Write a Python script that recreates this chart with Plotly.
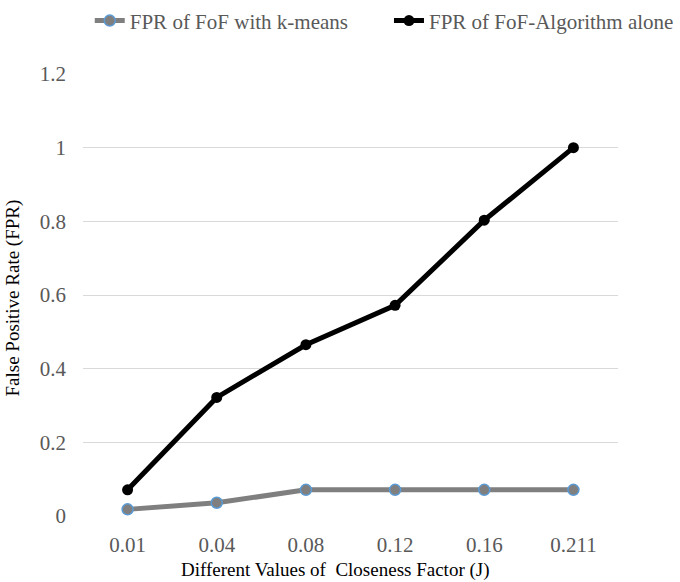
import plotly.graph_objects as go

categories = ["0.01", "0.04", "0.08", "0.12", "0.16", "0.211"]
fpr_kmeans = [0.018, 0.036, 0.071, 0.071, 0.071, 0.071]
fpr_fof = [0.071, 0.322, 0.465, 0.572, 0.803, 1.0]
y_ticks = [0, 0.2, 0.4, 0.6, 0.8, 1, 1.2]
y_tick_labels = ["0", "0.2", "0.4", "0.6", "0.8", "1", "1.2"]

FONT = "'Liberation Serif', 'Times New Roman', serif"
TICK_SIZE = 21
LEGEND_SIZE = 21
TITLE_SIZE = 19

fig = go.Figure()
fig.add_trace(go.Scatter(
    x=categories, y=fpr_kmeans, mode="lines+markers",
    name="FPR of FoF with k-means", legend="legend",
    line=dict(color="#7f7f7f", width=5),
    marker=dict(color="#7f7f7f", size=11, line=dict(color="#5b9bd5", width=1.5)),
))
fig.add_trace(go.Scatter(
    x=categories, y=fpr_fof, mode="lines+markers",
    name="FPR of FoF-Algorithm alone", legend="legend2",
    line=dict(color="#000000", width=5),
    marker=dict(color="#000000", size=11),
))

legend_common = dict(
    orientation="h", xref="container", yref="container",
    yanchor="middle", y=0.964,
    font=dict(family=FONT, size=LEGEND_SIZE, color="#595959"),
    bgcolor="rgba(0,0,0,0)", itemwidth=30,
)

fig.update_layout(
    width=680, height=582,
    margin=dict(l=83, r=62, t=74, b=66),
    plot_bgcolor="white", paper_bgcolor="white",
    font=dict(family=FONT, color="#595959", size=TICK_SIZE),
    showlegend=True,
    legend=dict(legend_common, x=0.132, xanchor="left"),
    legend2=dict(legend_common, x=0.9985, xanchor="right"),
    xaxis=dict(
        type="category", range=[-0.5, 5.5], showgrid=False, zeroline=False,
        showline=False, ticks="", tickfont=dict(family=FONT, size=TICK_SIZE, color="#595959"),
        ticklabelstandoff=14,
    ),
    yaxis=dict(
        range=[0, 1.2], tickvals=y_ticks, ticktext=y_tick_labels,
        showgrid=True, gridcolor="#d9d9d9", gridwidth=1, zeroline=False,
        showline=False, ticks="", tickfont=dict(family=FONT, size=TICK_SIZE, color="#595959"),
        ticklabelstandoff=16,
    ),
    annotations=[
        dict(text="Different Values of  Closeness Factor (J)", xref="paper", yref="paper",
             x=0.4725, y=-0.123, xanchor="center", yanchor="middle", showarrow=False,
             font=dict(family=FONT, size=TITLE_SIZE, color="#000000")),
        dict(text="False Positive Rate (FPR)", xref="paper", yref="paper",
             x=-0.13, y=0.493, xanchor="center", yanchor="middle", textangle=-90,
             showarrow=False, font=dict(family=FONT, size=TITLE_SIZE, color="#000000")),
    ],
    hovermode=False,
)

fig.write_html("out.html")
